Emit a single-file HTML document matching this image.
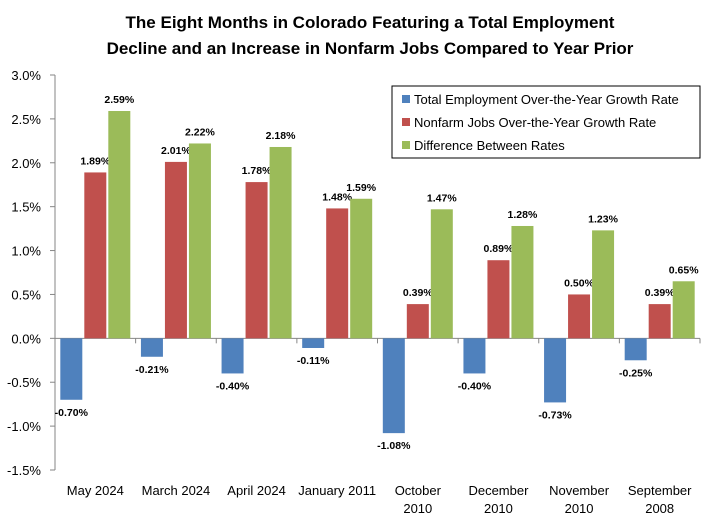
<!DOCTYPE html>
<html><head><meta charset="utf-8"><style>
body{margin:0;background:#fff;font-family:"Liberation Sans",Arial,sans-serif}
svg text{font-family:"Liberation Sans",Arial,sans-serif}
</style></head><body>
<svg id="c" width="711" height="520" xmlns="http://www.w3.org/2000/svg">
<text x="370" y="28" text-anchor="middle" font-size="17" font-weight="bold">The Eight Months in Colorado Featuring a Total Employment</text>
<text x="370" y="54" text-anchor="middle" font-size="17" font-weight="bold">Decline and an Increase in Nonfarm Jobs Compared to Year Prior</text>
<g id="plot"></g>
<g>
<rect x="392" y="86" width="308" height="72" fill="#fff" stroke="#000" stroke-width="1"/>
<rect x="402" y="95" width="8" height="8" fill="#4f81bd"/>
<text x="414" y="104" font-size="13">Total Employment Over-the-Year Growth Rate</text>
<rect x="402" y="118" width="8" height="8" fill="#c0504d"/>
<text x="414" y="127" font-size="13">Nonfarm Jobs Over-the-Year Growth Rate</text>
<rect x="402" y="141" width="8" height="8" fill="#9bbb59"/>
<text x="414" y="150" font-size="13">Difference Between Rates</text>
</g>
</svg>
<script>
const categories=[["May 2024"],["March 2024"],["April 2024"],["January 2011"],["October","2010"],["December","2010"],["November","2010"],["September","2008"]];
const totalEmp=[-0.70,-0.21,-0.40,-0.11,-1.08,-0.40,-0.73,-0.25];
const nonfarm=[1.89,2.01,1.78,1.48,0.39,0.89,0.50,0.39];
const diff=[2.59,2.22,2.18,1.59,1.47,1.28,1.23,0.65];
const yTicks=[3.0,2.5,2.0,1.5,1.0,0.5,0.0,-0.5,-1.0,-1.5];
const NS="http://www.w3.org/2000/svg";
const g=document.getElementById('plot');
const x0=55,x1=700,yTop=75,yBot=470,vMax=3,vMin=-1.5;
const y=v=>yTop+(vMax-v)/(vMax-vMin)*(yBot-yTop);
const step=(x1-x0)/categories.length;
const cx=i=>x0+step*(i+0.5);
function el(t,a){const e=document.createElementNS(NS,t);for(const k in a)e.setAttribute(k,a[k]);g.appendChild(e);return e;}
const ax=el('line',{x1:x0,x2:x0,y1:yTop,y2:yBot,stroke:'#868686'});


yTicks.forEach(v=>{
 const tk=el('line',{x1:x0-5,x2:x0,y1:y(v),y2:y(v),stroke:'#868686'});
 
 
 const t=el('text',{x:x0-14,y:y(v)+5,'text-anchor':'end','font-size':13});
 t.textContent=v.toFixed(1)+'%';
 
 
});
const xa=el('line',{x1:x0,x2:x1,y1:y(0),y2:y(0),stroke:'#868686'});


for(let i=1;i<=categories.length;i++){
 const tk=el('line',{x1:x0+step*i,x2:x0+step*i,y1:y(0),y2:y(0)+5,stroke:'#868686'});
 
 
}
const series=[[totalEmp,'#4f81bd',-1,'total'],[nonfarm,'#c0504d',0,'nonfarm'],[diff,'#9bbb59',1,'diff']];
const bw=22,gap=2;
categories.forEach((c,i)=>{
 series.forEach(([arr,col,off,nm])=>{
  const v=arr[i];const bx=cx(i)+off*(bw+gap)-bw/2;
  const r=el('rect',{x:bx,y:Math.min(y(v),y(0)),width:bw,height:Math.abs(y(v)-y(0)),fill:col});
  
  
  const t=el('text',{x:bx+bw/2,y:v>=0?y(v)-8:y(v)+16,'text-anchor':'middle','font-size':10.5,'font-weight':'bold'});
  t.textContent=v.toFixed(2)+'%';
  
  
 });
 c.forEach((ln,j)=>{
  const t=el('text',{x:cx(i),y:495+j*18,'text-anchor':'middle','font-size':13});
  t.textContent=ln;
  
  
 });
});
</script>
</body></html>
